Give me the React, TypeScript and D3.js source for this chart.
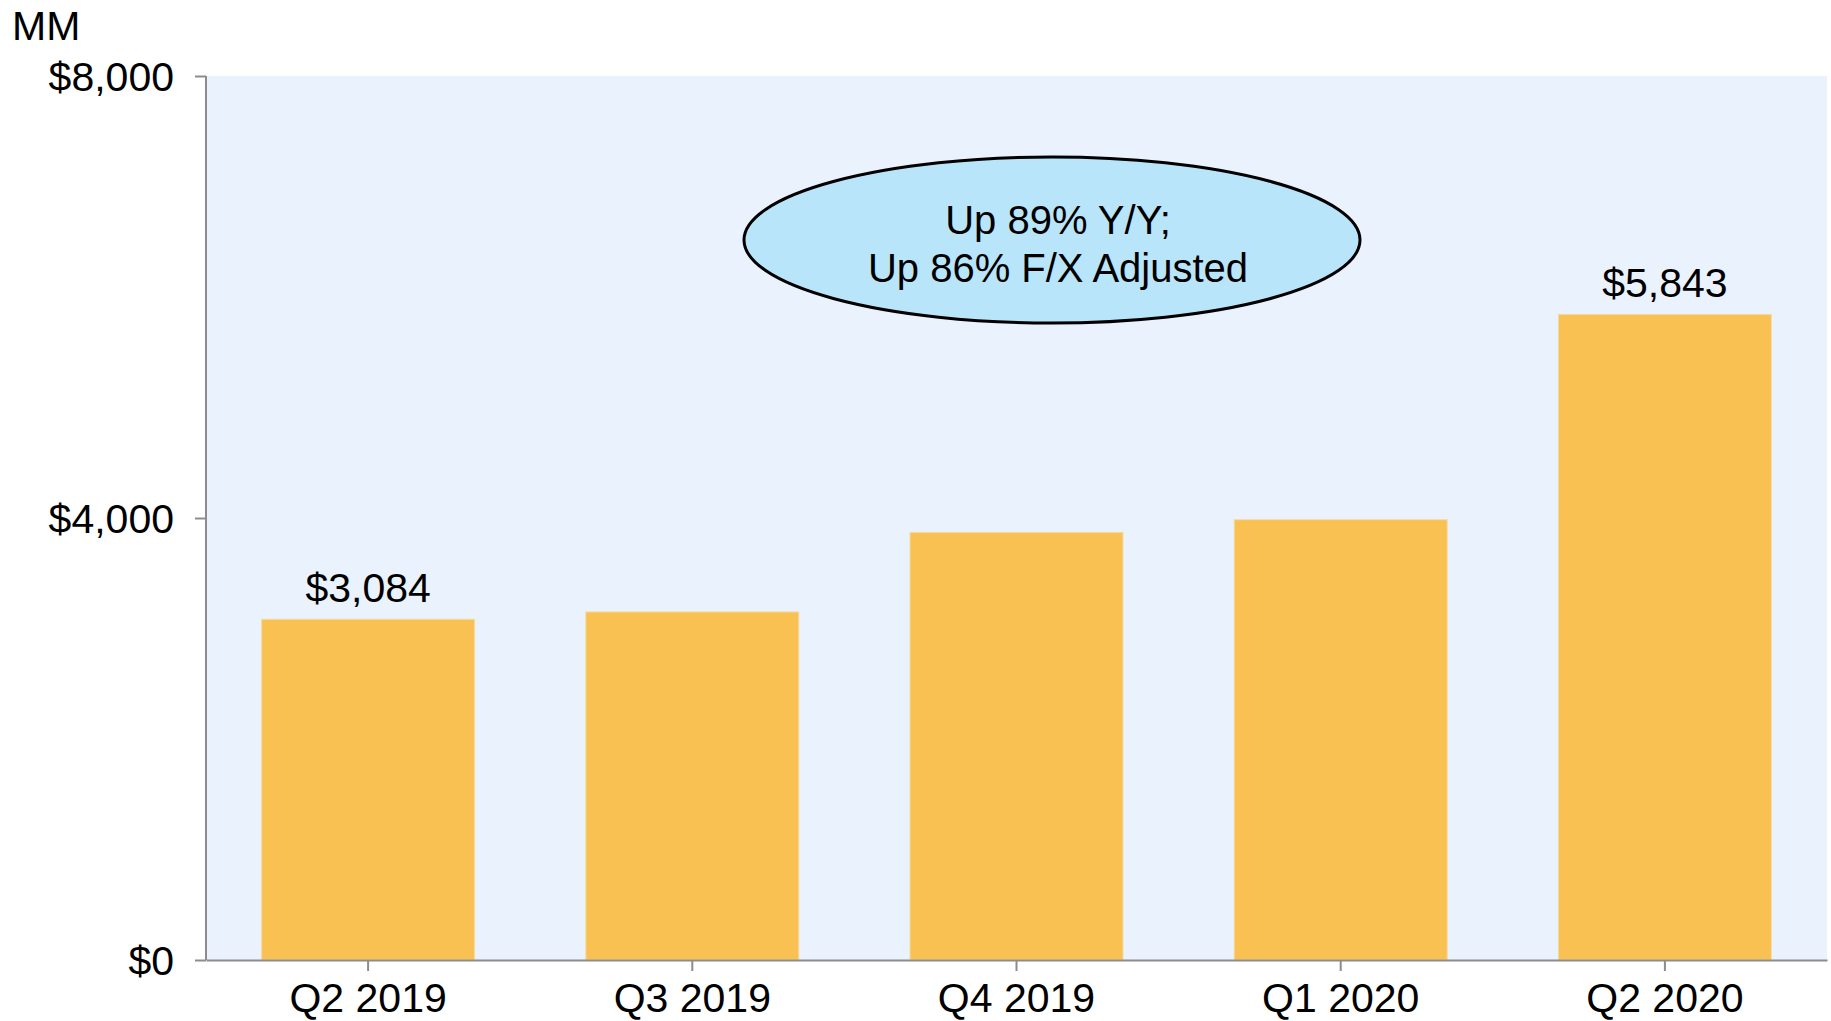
import React, { useRef, useEffect } from 'react';
import * as d3 from 'd3';

const categories: string[] = ['Q2 2019', 'Q3 2019', 'Q4 2019', 'Q1 2020', 'Q2 2020'];
const values: number[] = [3084, 3150, 3870, 3985, 5843];
// only first and last bars carry a value label
const valueLabels: (string | null)[] = ['$3,084', null, null, null, '$5,843'];
const yTicks: number[] = [0, 4000, 8000];
const calloutLines: string[] = ['Up 89% Y/Y;', 'Up 86% F/X Adjusted'];

const W = 1831;
const H = 1021;
const FONT = '"Liberation Sans", Arial, Helvetica, sans-serif';

const App = () => {
  const svgRef = useRef<SVGSVGElement>(null);

  useEffect(() => {
    const root = d3.select(svgRef.current);
    root.selectAll('*').remove();

    const margin = { top: 76, right: 4, bottom: 61, left: 206 };
    const width = W - margin.left - margin.right;
    const height = H - margin.top - margin.bottom;

    const svg = root
      .attr('width', W)
      .attr('height', H)
      .append('g')
      .attr('transform', `translate(${margin.left},${margin.top})`);

    const x = d3.scaleBand<string>()
      .domain(categories)
      .range([0, width])
      .paddingInner(0.343)
      .paddingOuter(0.1715);

    const y = d3.scaleLinear()
      .domain([0, 8000])
      .range([height, 0]);

    // plot background
    svg.append('rect')
      .attr('x', 0)
      .attr('y', 0)
      .attr('width', width)
      .attr('height', height)
      .attr('fill', '#eaf2fd');

    // bars
    svg.selectAll('.bar')
      .data(values)
      .join('rect')
      .attr('class', 'bar')
      .attr('x', (_, i) => x(categories[i])!)
      .attr('y', d => y(d))
      .attr('width', x.bandwidth())
      .attr('height', d => height - y(d))
      .attr('fill', '#f9c151')
      .attr('stroke', '#f4dca6')
      .attr('stroke-width', 1);

    // value labels
    svg.selectAll('.vlabel')
      .data(values)
      .join('text')
      .attr('class', 'vlabel')
      .attr('x', (_, i) => x(categories[i])! + x.bandwidth() / 2)
      .attr('y', d => y(d) - 17)
      .attr('text-anchor', 'middle')
      .style('font-family', FONT)
      .style('font-size', '41px')
      .style('fill', '#000')
      .text((_, i) => valueLabels[i] ?? '');

    // y axis
    const yAxis = svg.append('g')
      .call(d3.axisLeft(y)
        .tickValues(yTicks)
        .tickSize(11)
        .tickPadding(21)
        .tickFormat(d => `$${d3.format(',')(d as number)}`));
    yAxis.select('.domain').attr('stroke', '#8c8c8c').attr('stroke-width', 2).attr('d', `M0,0V${height}`);
    yAxis.selectAll('line').attr('stroke', '#8c8c8c').attr('stroke-width', 2);
    yAxis.selectAll('text')
      .style('font-family', FONT)
      .style('font-size', '41px')
      .style('fill', '#000')
      .attr('dy', '0.35em');

    // x axis
    const xAxis = svg.append('g')
      .attr('transform', `translate(0,${height})`)
      .call(d3.axisBottom(x).tickSize(11).tickPadding(12).tickSizeOuter(0));
    xAxis.select('.domain').attr('stroke', '#8c8c8c').attr('stroke-width', 2);
    xAxis.selectAll('line').attr('stroke', '#8c8c8c').attr('stroke-width', 2);
    xAxis.selectAll('text')
      .style('font-family', FONT)
      .style('font-size', '41px')
      .style('fill', '#000')
      .attr('dy', '0.7em');

    // unit label
    root.append('text')
      .attr('x', 12)
      .attr('y', 40)
      .style('font-family', FONT)
      .style('font-size', '41px')
      .style('fill', '#000')
      .text('MM');

    // callout ellipse
    const callout = root.append('g');
    callout.append('ellipse')
      .attr('cx', 1052)
      .attr('cy', 240)
      .attr('rx', 308)
      .attr('ry', 83)
      .attr('fill', '#b9e5fa')
      .attr('stroke', '#000')
      .attr('stroke-width', 3);
    callout.selectAll('.cline')
      .data(calloutLines)
      .join('text')
      .attr('class', 'cline')
      .attr('x', 1058)
      .attr('y', (_, i) => 234 + i * 48)
      .attr('text-anchor', 'middle')
      .style('font-family', FONT)
      .style('font-size', '40px')
      .style('fill', '#000')
      .text(d => d);
  }, []);

  return (
    <div style={{ width: W, height: H, background: '#fff' }}>
      <style>{`body { margin: 0; }`}</style>
      <svg ref={svgRef} style={{ display: 'block' }}></svg>
    </div>
  );
};

export default App;
